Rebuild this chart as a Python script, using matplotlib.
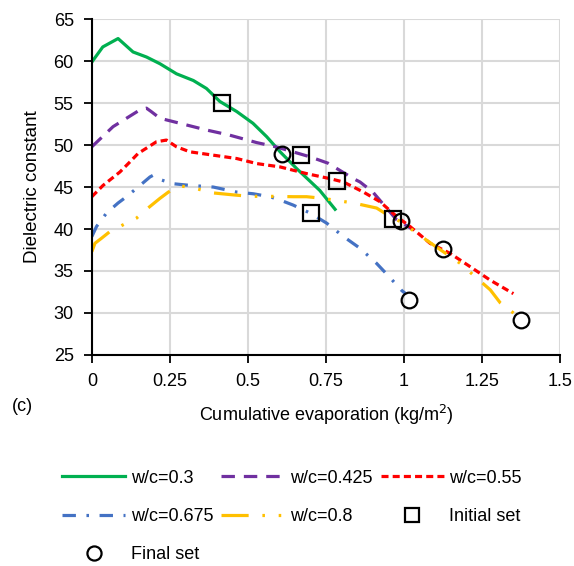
import matplotlib.pyplot as plt

plt.rcParams['font.family'] = ['Liberation Sans', 'DejaVu Sans']

# ---- data ----
x_03 = [0.0, 0.035, 0.084, 0.132, 0.175, 0.218, 0.271, 0.325, 0.367, 0.41, 0.464, 0.516,
        0.56, 0.603, 0.656, 0.73, 0.779]
y_03 = [59.9, 61.7, 62.7, 61.1, 60.5, 59.7, 58.5, 57.7, 56.75, 55.2, 54.0, 52.6,
        51.0, 49.2, 47.2, 44.6, 42.35]

x_0425 = [0.0, 0.068, 0.154, 0.175, 0.19, 0.218, 0.282, 0.367, 0.44, 0.528, 0.589, 0.699,
          0.756, 0.838, 0.859, 0.9, 0.976, 1.03]
y_0425 = [49.8, 52.2, 54.2, 54.4, 54.0, 53.2, 52.6, 51.8, 51.2, 50.3, 49.8, 48.6,
          47.85, 46.0, 45.6, 44.4, 41.1, 39.9]

x_055 = [0.0, 0.036, 0.09, 0.122, 0.148, 0.207, 0.239, 0.271, 0.314, 0.389, 0.464, 0.528,
         0.603, 0.688, 0.763, 0.806, 0.87, 0.923, 0.976, 1.019, 1.083, 1.147, 1.212, 1.276, 1.35]
y_055 = [43.85, 45.2, 46.8, 48.0, 49.0, 50.4, 50.6, 49.8, 49.2, 48.8, 48.4, 47.8,
         47.4, 46.6, 46.0, 45.6, 44.4, 43.25, 41.5, 40.3, 38.3, 37.1, 35.5, 33.9, 32.3]

x_0675 = [0.0, 0.015, 0.047, 0.084, 0.111, 0.148, 0.186, 0.196, 0.218, 0.26, 0.314, 0.389,
          0.464, 0.517, 0.57, 0.603, 0.645, 0.699, 0.752, 0.806, 0.859, 0.912, 0.95, 0.993, 1.005]
y_0675 = [39.1, 40.3, 41.9, 43.1, 43.85, 45.0, 46.2, 46.4, 45.9, 45.4, 45.2, 45.0,
          44.4, 44.2, 43.85, 43.45, 42.85, 41.9, 40.7, 39.1, 37.7, 35.9, 34.4, 32.65, 32.3]

x_08 = [0.0, 0.01, 0.031, 0.058, 0.1, 0.143, 0.18, 0.218, 0.245, 0.282, 0.33, 0.389, 0.458,
        0.506, 0.56, 0.645, 0.688, 0.741, 0.784, 0.838, 0.912, 0.955, 0.998, 1.04, 1.094,
        1.18, 1.222, 1.276, 1.308, 1.35, 1.382]
y_08 = [37.3, 38.3, 38.9, 39.7, 40.5, 41.3, 42.5, 43.65, 44.4, 45.15, 44.85, 44.3, 44.05,
        43.9, 43.9, 43.85, 43.85, 43.65, 43.4, 43.1, 42.5, 41.5, 40.7, 39.5, 38.1,
        35.9, 34.5, 32.75, 31.2, 30.0, 29.0]

initial_x = [0.417, 0.67, 0.702, 0.784, 0.966]
initial_y = [55.0, 48.8, 41.9, 45.7, 41.2]
final_x = [0.61, 0.99, 1.126, 1.017, 1.373]
final_y = [48.9, 41.0, 37.6, 31.6, 29.1]

x_ticks = [0, 0.25, 0.5, 0.75, 1, 1.25, 1.5]
x_tick_labels = ['0', '0.25', '0.5', '0.75', '1', '1.25', '1.5']
y_ticks = [25, 30, 35, 40, 45, 50, 55, 60, 65]

# ---- figure ----
fig = plt.figure(figsize=(5.74, 5.66), dpi=100)
ax = fig.add_axes([0.160, 0.373, 0.816, 0.593])

lw = 2.3
l1, = ax.plot(x_03, y_03, color='#00b050', lw=lw, label='w/c=0.3')
l2, = ax.plot(x_0425, y_0425, color='#7030a0', lw=lw, dashes=(4.2, 2.8), label='w/c=0.425')
l3, = ax.plot(x_055, y_055, color='#ff0000', lw=lw, dashes=(2.2, 1.3), label='w/c=0.55')
l4, = ax.plot(x_0675, y_0675, color='#4472c4', lw=lw, dashes=(4.2, 3.3, 0.8, 3.3), label='w/c=0.675')
l5, = ax.plot(x_08, y_08, color='#ffc000', lw=lw,
              dashes=(8.5, 4.3, 0.8, 4.3, 0.8, 4.3), label='w/c=0.8')

m1, = ax.plot(initial_x, initial_y, ls='none', marker='s', ms=11.3, mfc='none', mec='black',
              mew=1.6, label='Initial set')
m2, = ax.plot(final_x, final_y, ls='none', marker='o', ms=11.3, mfc='none', mec='black',
              mew=1.6, label='Final set')

ax.set_xlim(0, 1.5)
ax.set_ylim(25, 65)
ax.set_xticks(x_ticks)
ax.set_xticklabels(x_tick_labels)
ax.set_yticks(y_ticks)
ax.grid(True, color='#d9d9d9', lw=1.5)
ax.set_axisbelow(True)
for s in ['top', 'right']:
    ax.spines[s].set_visible(False)
for s in ['left', 'bottom']:
    ax.spines[s].set_linewidth(1.5)
ax.tick_params(axis='both', labelsize=13, length=6, width=1.3, direction='out', pad=7)

ax.set_xlabel('Cumulative evaporation (kg/m$^2$)', fontsize=13, labelpad=9)
ax.set_ylabel('Dielectric constant', fontsize=13.5, labelpad=9)
fig.text(0.02, 0.282, '(c)', fontsize=13, va='center')

# legend filled row by row (matplotlib fills columns first)
handles = [l1, l4, m2, l2, l5, l3, m1]
fig.legend(handles=handles, labels=[h.get_label() for h in handles], ncol=3,
           loc='upper left', bbox_to_anchor=(0.08, 0.199), frameon=False, fontsize=13,
           handlelength=3.5, handletextpad=0.3, columnspacing=0.45, labelspacing=1.18,
           markerscale=0.9)

fig.savefig('out.png', dpi=100)
